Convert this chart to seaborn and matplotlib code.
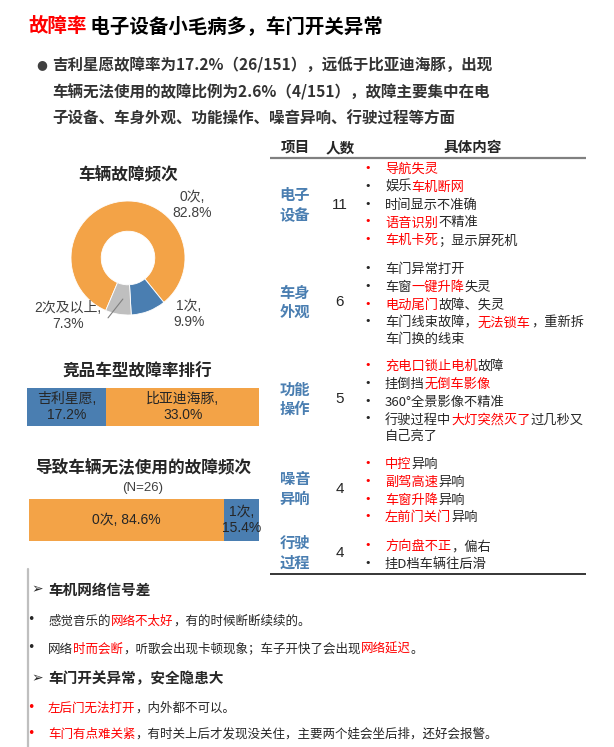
import numpy as np
import pandas as pd
import matplotlib
matplotlib.use('Agg')
import matplotlib.pyplot as plt
import seaborn as sns
from matplotlib.font_manager import FontProperties

# ---------------- data ----------------
fault_freq_labels = ['0次', '1次', '2次及以上']
fault_freq_pct = [82.8, 9.9, 7.3]

rival_models = ['吉利星愿', '比亚迪海豚']
rival_rates = [17.2, 33.0]

unusable_labels = ['0次', '1次']
unusable_pct = [84.6, 15.4]
unusable_n = 26

table_items = ['电子\n设备', '车身\n外观', '功能\n操作', '噪音\n异响', '行驶\n过程']
table_counts = [11, 6, 5, 4, 4]

# each bullet: (bullet colour, [lines]); each line: [(text, colour)]
table_details = [
    [('r', [[('导航失灵', 'r')]]),
     ('k', [[('娱乐', 'k'), ('车机断网', 'r')]]),
     ('k', [[('时间显示不准确', 'k')]]),
     ('r', [[('语音识别', 'r'), ('不精准', 'k')]]),
     ('r', [[('车机卡死', 'r'), ('；显示屏死机', 'k')]])],
    [('k', [[('车门异常打开', 'k')]]),
     ('k', [[('车窗', 'k'), ('一键升降', 'r'), ('失灵', 'k')]]),
     ('r', [[('电动尾门', 'r'), ('故障、失灵', 'k')]]),
     ('k', [[('车门线束故障，', 'k'), ('无法锁车', 'r'), ('，重新拆', 'k')],
            [('车门换的线束', 'k')]])],
    [('r', [[('充电口锁止电机', 'r'), ('故障', 'k')]]),
     ('k', [[('挂倒挡', 'k'), ('无倒车影像', 'r')]]),
     ('k', [[('360°全景影像不精准', 'k')]]),
     ('k', [[('行驶过程中', 'k'), ('大灯突然灭了', 'r'), ('过几秒又', 'k')],
            [('自己亮了', 'k')]])],
    [('r', [[('中控', 'r'), ('异响', 'k')]]),
     ('r', [[('副驾高速', 'r'), ('异响', 'k')]]),
     ('r', [[('车窗升降', 'r'), ('异响', 'k')]]),
     ('r', [[('左前门关门', 'r'), ('异响', 'k')]])],
    [('r', [[('方向盘不正', 'r'), ('，偏右', 'k')]]),
     ('k', [[('挂D档车辆往后滑', 'k')]])],
]

title_parts = [('故障率', 'r'), (' 电子设备小毛病多，车门开关异常', 'black')]
summary_lines = ['吉利星愿故障率为17.2%（26/151），远低于比亚迪海豚，出现',
                 '车辆无法使用的故障比例为2.6%（4/151），故障主要集中在电',
                 '子设备、车身外观、功能操作、噪音异响、行驶过程等方面']

quote_sections = [
    ('车机网络信号差', [
        ('k', [('感觉音乐的', 'k'), ('网络不太好', 'r'), ('，有的时候断断续续的。', 'k')]),
        ('k', [('网络', 'k'), ('时而会断', 'r'), ('，听歌会出现卡顿现象；车子开快了会出现', 'k'),
               ('网络延迟', 'r'), ('。', 'k')]),
    ]),
    ('车门开关异常，安全隐患大', [
        ('r', [('左后门无法打开', 'r'), ('，内外都不可以。', 'k')]),
        ('r', [('车门有点难关紧', 'r'),
               ('，有时关上后才发现没关住，主要两个娃会坐后排，还好会报警。', 'k')]),
    ]),
]

# ---------------- style ----------------
sns.set_theme(style='white')
FAM = ['Noto Sans CJK SC', 'DejaVu Sans']
LAT = ['Liberation Sans', 'Noto Sans CJK SC', 'DejaVu Sans']
plt.rcParams['font.family'] = FAM

ORANGE = '#F3A347'
BLUE = '#4A7EB1'
GREY = '#BFBFBF'
RED = '#FF0000'
DARK = '#262626'
COL = {'r': RED, 'k': DARK}

W, H = 614, 747
fig = plt.figure(figsize=(W / 100, H / 100), dpi=100)
fig.patch.set_facecolor('white')
ax = fig.add_axes([0, 0, 1, 1])
ax.set_xlim(0, W)
ax.set_ylim(H, 0)
ax.axis('off')
renderer = fig.canvas.get_renderer()


def frac(l, t, w, h):
    return [l / W, 1 - (t + h) / H, w / W, h / H]


def col(c):
    return COL.get(c, c)


def tw(s, fp):
    # advance width of s: measured between two ideograph sentinels
    w1, _, _ = renderer.get_text_width_height_descent('一' + s + '一', fp, ismath=False)
    w2, _, _ = renderer.get_text_width_height_descent('一一', fp, ismath=False)
    return w1 - w2


def runs(x, yc, parts, size, weight='normal', family=FAM):
    fp = FontProperties(family=family, size=size, weight=weight)
    yb = yc + 0.38 * size * 100 / 72
    for s, c in parts:
        ax.text(x, yb, s, fontproperties=fp, color=col(c), ha='left', va='baseline')
        x += tw(s, fp)


# ---------------- title & summary ----------------
runs(28, 25, title_parts, 14, 'bold')
ax.text(42, 65, '●', fontsize=9, color='#404040', ha='center', va='center',
        family=['DejaVu Sans'])
for i, line in enumerate(summary_lines):
    runs(52, [65, 92, 118][i], [(line, '#333333')], 11.2, 'bold')

# ---------------- donut ----------------
ax.text(128, 175, '车辆故障频次', fontsize=12, fontweight='bold', color=DARK,
        ha='center', va='center')
pax = fig.add_axes(frac(71, 201, 114, 114))
pax.pie(fault_freq_pct, colors=[ORANGE, BLUE, GREY], startangle=247,
        counterclock=False, radius=1,
        wedgeprops=dict(width=0.53, edgecolor='white', linewidth=0.6))
pax.set_xlim(-1, 1)
pax.set_ylim(-1, 1)
pax.axis('off')
label_pos = [(1.12, 0.93), (1.07, -0.98), (-1.05, -1.02)]
for (lx, ly), lab, v in zip(label_pos, fault_freq_labels, fault_freq_pct):
    pax.text(lx, ly, f'{lab},\n{v:.1f}%', family=LAT, fontsize=10, color='#404040',
             ha='center', va='center', linespacing=1.15, clip_on=False)
pax.plot([-0.35, -0.09], [-1.05, -0.72], color='#7f7f7f', lw=0.8, clip_on=False)


# ---------------- stacked bars ----------------
def stacked(rect, values, colors, labels):
    bax = fig.add_axes(frac(*rect))
    cum = np.cumsum(values)
    for i in reversed(range(len(values))):
        sns.barplot(x=[cum[i]], y=['r'], orient='h', color=colors[i], width=1,
                    saturation=1, errorbar=None, ax=bax, linewidth=0)
    bax.set_xlim(0, cum[-1])
    bax.set_ylim(0.5, -0.5)
    bax.axis('off')
    starts = cum - np.asarray(values)
    for s, v, lab in zip(starts, values, labels):
        bax.text(s + v / 2, 0, lab, family=LAT, fontsize=10, color=DARK,
                 ha='center', va='center', linespacing=1.15, clip_on=False)
    return bax


ax.text(137, 372, '竞品车型故障率排行', fontsize=12, fontweight='bold', color=DARK,
        ha='center', va='center')
stacked((27, 388, 232, 38), rival_rates, [BLUE, ORANGE],
        [f'{m},\n{v:.1f}%' for m, v in zip(rival_models, rival_rates)])

ax.text(143, 468, '导致车辆无法使用的故障频次', fontsize=12, fontweight='bold',
        color=DARK, ha='center', va='center')
ax.text(143, 488, f'(N={unusable_n})', family=LAT, fontsize=9.5, color='#404040',
        ha='center', va='center')
stacked((29, 499, 230, 42), unusable_pct, [ORANGE, BLUE],
        [f'{unusable_labels[0]}, {unusable_pct[0]:.1f}%',
         f'{unusable_labels[1]},\n{unusable_pct[1]:.1f}%'])

# ---------------- table ----------------
for x, s in [(295, '项目'), (340, '人数'), (473, '具体内容')]:
    ax.text(x, 147, s, fontsize=10.5, fontweight='bold', color=DARK,
            ha='center', va='center')
ax.plot([270, 586], [158, 158], color='#808080', lw=1.6, solid_capstyle='butt')
ax.plot([270, 586], [574, 574], color='black', lw=1.1, solid_capstyle='butt')

row_first_y = [168, 268, 365, 463, 545]
row_center_y = [205, 302, 399, 489, 553]
step, wrap = 17.8, 16
for item, cnt, details, y0, yc in zip(table_items, table_counts, table_details,
                                       row_first_y, row_center_y):
    ax.text(295, yc, item, fontsize=11, fontweight='bold', color=BLUE,
            ha='center', va='center', linespacing=1.25)
    ax.text(340, yc, str(cnt), family=LAT, fontsize=11, color=DARK,
            ha='center', va='center')
    y = y0
    for bcol, lines in details:
        ax.text(368, y, '•', fontsize=8, color=col(bcol), ha='center', va='center',
                family=['DejaVu Sans'])
        for j, line in enumerate(lines):
            runs(385, y + j * wrap, line, 9.5)
        y += step + (len(lines) - 1) * wrap

# ---------------- quotes ----------------
ax.plot([27.5, 27.5], [569, 747], color=GREY, lw=1.6)
head_y = [589, 678]
bullet_y = [[620, 648], [707, 733]]
for (head, bullets), hy, bys in zip(quote_sections, head_y, bullet_y):
    ax.text(37, hy, '➢', family=['DejaVu Sans'], fontsize=10, color=DARK,
            ha='center', va='center')
    runs(48, hy, [(head, 'k')], 10.5, 'bold')
    for (bcol, parts), by in zip(bullets, bys):
        ax.text(31, by, '•', fontsize=9, color=col(bcol), ha='center', va='center',
                family=['DejaVu Sans'])
        runs(48, by, parts, 9)

fig.savefig('out.png', dpi=100)
